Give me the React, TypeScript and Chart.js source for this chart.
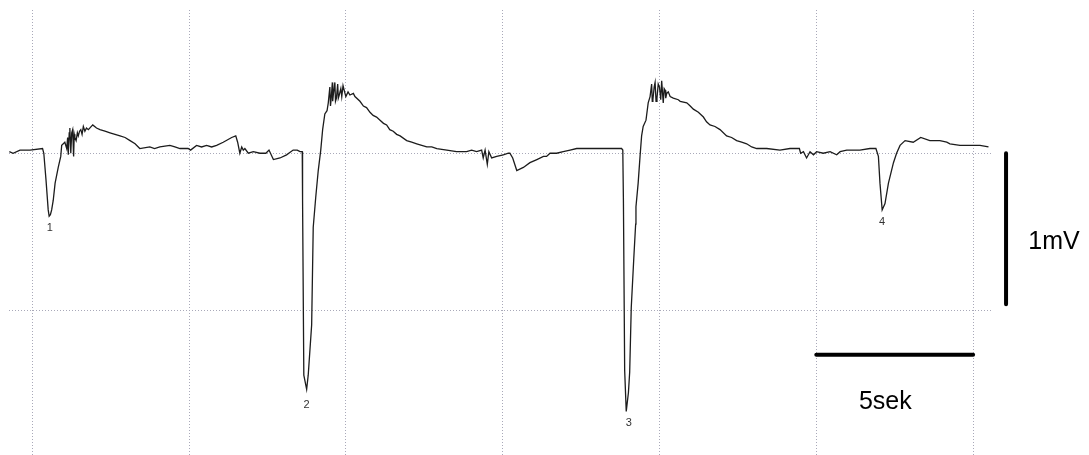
import React, { useEffect, useRef } from 'react';
import { Chart, registerables } from 'chart.js';

Chart.register(...registerables);

// ECG-like trace: [time in seconds, potential in mV]
const trace: [number, number][] = [
  [-0.73, 0.01], [-0.61, 0.0], [-0.39, 0.02], [-0.07, 0.02], [0.33, 0.03], [0.37, 0.0],
  [0.44, -0.17], [0.51, -0.36], [0.54, -0.4], [0.58, -0.39], [0.62, -0.36], [0.67, -0.3],
  [0.73, -0.19], [0.83, -0.09], [0.91, -0.02], [0.94, 0.05], [1.04, 0.07], [1.1, 0.03],
  [1.13, 0.1], [1.15, -0.01], [1.18, 0.13], [1.2, 0.16], [1.23, 0.0], [1.26, 0.13],
  [1.29, 0.15], [1.32, -0.02], [1.34, 0.12], [1.36, 0.1], [1.4, 0.08], [1.44, 0.13],
  [1.47, 0.11], [1.51, 0.14], [1.55, 0.15], [1.59, 0.12], [1.63, 0.17], [1.68, 0.14],
  [1.73, 0.16], [1.79, 0.15], [1.93, 0.18], [2.05, 0.16], [2.16, 0.15], [2.32, 0.14],
  [2.48, 0.13], [2.64, 0.12], [2.8, 0.11], [2.96, 0.1], [3.12, 0.08], [3.28, 0.06],
  [3.43, 0.03], [3.75, 0.04], [3.9, 0.03], [4.07, 0.04], [4.39, 0.05], [4.55, 0.04],
  [4.71, 0.03], [4.97, 0.03], [5.05, 0.02], [5.24, 0.05], [5.4, 0.04], [5.56, 0.05],
  [5.72, 0.04], [5.88, 0.05], [6.09, 0.07], [6.36, 0.1], [6.49, 0.11], [6.55, 0.07],
  [6.62, 0.0], [6.68, 0.04], [6.73, 0.02], [6.78, 0.03], [6.89, 0.0], [7.05, 0.01],
  [7.26, 0.0], [7.45, 0.0], [7.55, 0.02], [7.69, -0.04], [7.9, -0.03], [8.11, -0.01],
  [8.32, 0.02], [8.45, 0.02], [8.54, 0.01], [8.61, 0.01],
  [8.62, -0.3], [8.66, -1.41], [8.75, -1.5], [8.8, -1.41], [8.91, -1.09], [8.96, -0.47],
  [9.04, -0.28], [9.12, -0.11], [9.2, 0.02], [9.26, 0.15], [9.33, 0.25], [9.4, 0.27],
  [9.44, 0.32], [9.49, 0.42], [9.51, 0.3], [9.53, 0.34], [9.57, 0.45], [9.58, 0.33],
  [9.6, 0.37], [9.65, 0.45], [9.67, 0.33], [9.7, 0.35], [9.74, 0.44], [9.76, 0.35],
  [9.79, 0.37], [9.84, 0.41], [9.87, 0.36], [9.91, 0.43], [9.96, 0.39], [10.0, 0.36],
  [10.07, 0.39], [10.13, 0.37], [10.24, 0.38], [10.29, 0.36],
  [10.45, 0.33], [10.56, 0.3], [10.66, 0.29], [10.77, 0.26], [10.87, 0.24], [10.98, 0.23],
  [11.09, 0.21], [11.2, 0.19], [11.3, 0.18], [11.4, 0.15], [11.51, 0.14], [11.62, 0.12],
  [11.73, 0.11], [11.94, 0.08], [12.1, 0.07], [12.26, 0.06], [12.58, 0.04], [12.74, 0.04],
  [12.9, 0.03], [13.22, 0.02], [13.53, 0.01], [13.85, 0.01], [14.01, 0.02], [14.17, 0.01],
  [14.33, 0.02], [14.38, -0.03], [14.44, 0.02], [14.51, -0.07], [14.56, 0.01], [14.65, -0.03],
  [14.81, -0.02], [15.02, -0.01], [15.18, 0.0], [15.23, 0.0], [15.32, -0.03], [15.45, -0.11],
  [15.66, -0.09], [15.87, -0.06], [16.09, -0.04], [16.3, -0.02], [16.4, -0.02], [16.51, 0.0],
  [16.72, 0.0], [16.93, 0.01], [17.15, 0.02], [17.36, 0.03], [17.68, 0.03], [18.0, 0.03],
  [18.42, 0.03], [18.79, 0.03], [18.83, 0.02],
  [18.85, -0.3], [18.89, -1.38], [18.94, -1.64], [19.01, -1.52], [19.05, -1.39], [19.1, -0.98],
  [19.18, -0.67], [19.24, -0.45], [19.25, -0.34], [19.32, -0.19], [19.38, -0.02], [19.43, 0.11],
  [19.48, 0.17], [19.57, 0.21], [19.64, 0.32], [19.7, 0.36], [19.75, 0.44], [19.77, 0.33],
  [19.79, 0.34], [19.83, 0.42], [19.86, 0.45], [19.89, 0.33], [19.92, 0.35], [19.96, 0.44],
  [20.0, 0.42], [20.04, 0.34], [20.07, 0.46], [20.12, 0.32], [20.15, 0.41], [20.18, 0.4],
  [20.2, 0.35], [20.23, 0.38], [20.28, 0.39], [20.34, 0.36], [20.44, 0.35], [20.6, 0.34],
  [20.66, 0.33], [20.87, 0.32], [20.98, 0.3], [21.08, 0.28], [21.24, 0.26], [21.4, 0.23],
  [21.5, 0.2], [21.61, 0.18], [21.77, 0.17], [21.93, 0.15], [22.14, 0.11], [22.3, 0.1],
  [22.46, 0.08], [22.62, 0.07], [22.78, 0.06], [22.94, 0.04], [23.1, 0.03], [23.42, 0.03],
  [23.84, 0.02], [24.16, 0.03], [24.46, 0.03], [24.5, 0.0], [24.59, 0.01], [24.69, -0.03],
  [24.8, 0.01], [24.91, -0.01], [25.01, 0.01], [25.22, 0.0], [25.44, 0.01], [25.65, -0.01],
  [25.76, 0.01], [25.97, 0.02], [26.08, 0.02], [26.39, 0.02], [26.71, 0.03], [26.9, 0.03],
  [26.98, -0.02], [27.03, -0.19], [27.1, -0.36], [27.19, -0.32], [27.3, -0.19], [27.46, -0.06],
  [27.56, 0.0], [27.67, 0.05], [27.83, 0.08], [28.09, 0.07], [28.33, 0.1], [28.62, 0.08],
  [28.94, 0.08], [29.16, 0.07], [29.26, 0.06], [29.58, 0.05], [29.9, 0.05], [30.22, 0.05],
  [30.49, 0.04],
];

const gridTimes = [0, 5, 10, 15, 20, 25, 30];
const gridMv = [0, -1];

const peakLabels = ['1', '2', '3', '4'];
const peakLabelTime = [0.56, 8.75, 19.02, 27.1];
const peakLabelMv = [-0.47, -1.59, -1.71, -0.43];

const timeBarTime = [25, 30];
const timeBarMv = -1.28;
const timeBarText = '5sek';
const timeBarTextPos = [27.2, -1.57];

const voltBarTime = 31.05;
const voltBarMv = [0, -0.96];
const voltBarText = '1mV';
const voltBarTextPos = [32.58, -0.55];

const xMin = -0.74;
const xMax = 30.57;
const yMin = -1.917;
const yMax = 0.91;

const annotatePlugin = {
  id: 'annotate',
  afterDatasetsDraw(chart: any) {
    const { ctx } = chart;
    const x = chart.scales.x;
    const y = chart.scales.y;
    ctx.save();
    ctx.textAlign = 'center';
    ctx.textBaseline = 'alphabetic';
    ctx.fillStyle = '#333';
    ctx.font = '11px "Liberation Sans", Arial, sans-serif';
    peakLabels.forEach((l, i) => {
      ctx.fillText(l, x.getPixelForValue(peakLabelTime[i]), y.getPixelForValue(peakLabelMv[i]) + 4);
    });
    ctx.fillStyle = '#000';
    ctx.font = '25px "Liberation Sans", Arial, sans-serif';
    ctx.fillText(timeBarText, x.getPixelForValue(timeBarTextPos[0]), y.getPixelForValue(timeBarTextPos[1]) + 9);
    ctx.fillText(voltBarText, x.getPixelForValue(voltBarTextPos[0]), y.getPixelForValue(voltBarTextPos[1]) + 9);
    ctx.restore();
  },
};

export default function App() {
  const ref = useRef<HTMLCanvasElement | null>(null);

  useEffect(() => {
    if (!ref.current) return;
    const gridColor = '#a9a9b9';
    const chart = new Chart(ref.current, {
      type: 'line',
      data: {
        datasets: [
          {
            data: trace.map(([t, v]) => ({ x: t, y: v })),
            borderColor: '#1c1c1c',
            borderWidth: 1.3,
            pointRadius: 0,
            tension: 0,
          },
          {
            data: timeBarTime.map((t) => ({ x: t, y: timeBarMv })),
            borderColor: '#000',
            borderWidth: 4,
            borderCapStyle: 'round',
            pointRadius: 0,
            clip: false,
          },
          {
            data: voltBarMv.map((v) => ({ x: voltBarTime, y: v })),
            borderColor: '#000',
            borderWidth: 4,
            borderCapStyle: 'round',
            pointRadius: 0,
            clip: false,
          },
        ],
      },
      options: {
        animation: false,
        responsive: true,
        maintainAspectRatio: false,
        layout: { padding: { left: 9, top: 10, right: 98, bottom: 0 } },
        plugins: { legend: { display: false }, tooltip: { enabled: false } },
        events: [],
        scales: {
          x: {
            type: 'linear',
            min: xMin,
            max: xMax,
            afterBuildTicks: (scale: any) => {
              scale.ticks = gridTimes.map((v) => ({ value: v }));
            },
            ticks: { display: false },
            grid: { color: gridColor, lineWidth: 1, drawTicks: false },
            border: { display: false, dash: [1, 2] },
          },
          y: {
            type: 'linear',
            min: yMin,
            max: yMax,
            afterBuildTicks: (scale: any) => {
              scale.ticks = gridMv.map((v) => ({ value: v }));
            },
            ticks: { display: false },
            grid: { color: gridColor, lineWidth: 1, drawTicks: false },
            border: { display: false, dash: [1, 2] },
          },
        },
      },
      plugins: [annotatePlugin],
    } as any);
    return () => chart.destroy();
  }, []);

  return (
    <div style={{ position: 'fixed', left: 0, top: 0, width: 1089, height: 455, background: '#fff' }}>
      <canvas ref={ref} />
    </div>
  );
}
